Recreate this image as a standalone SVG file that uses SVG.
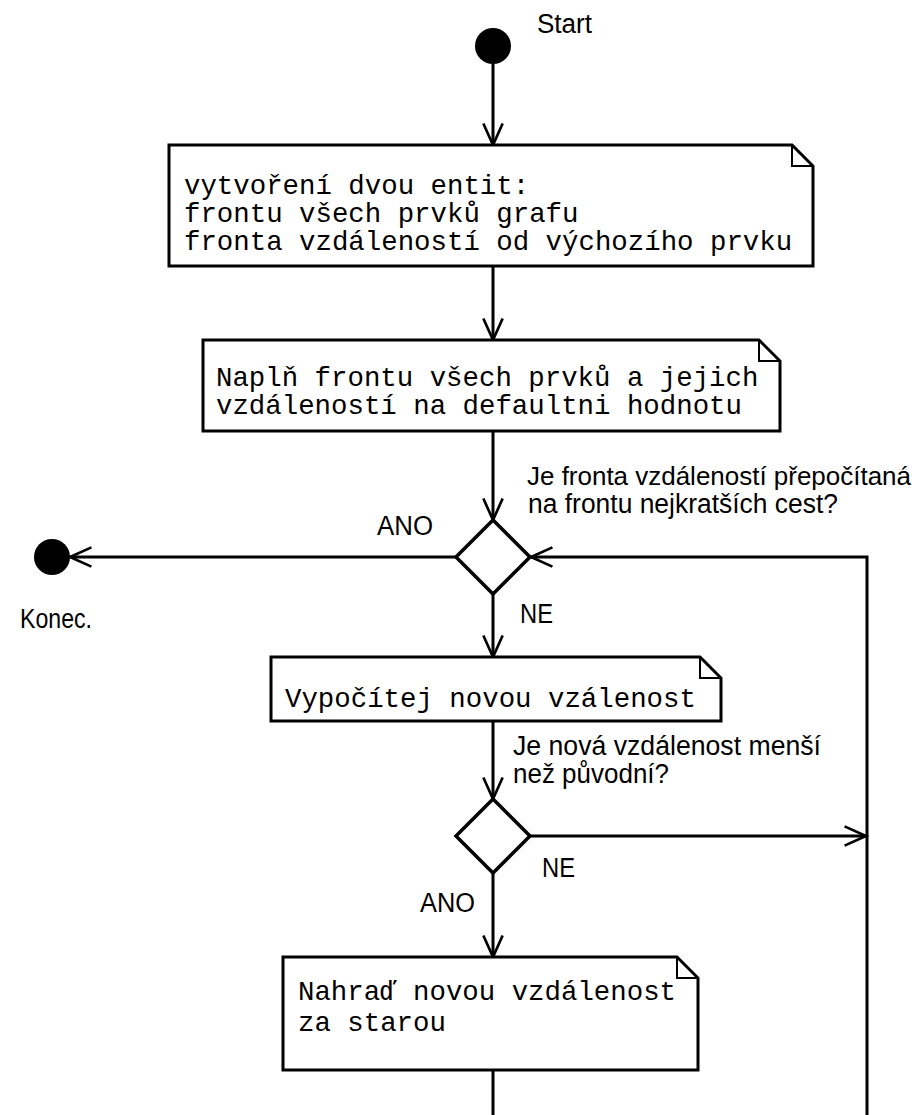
<svg xmlns="http://www.w3.org/2000/svg" width="920" height="1115" viewBox="0 0 920 1115">
  <defs>
    <style>
      .box { fill: #ffffff; stroke: #000; stroke-width: 3; stroke-linejoin: miter; }
      .fold { fill: none; stroke: #000; stroke-width: 2; }
      .mono { font-family: "Liberation Mono", "Courier New", monospace; font-size: 27.4px; fill: #000; }
      .lbl { font-family: "Liberation Sans", Arial, sans-serif; font-size: 27px; fill: #000; }
      .conn { fill: none; stroke: #000; stroke-width: 3; }
      .dia { fill: #ffffff; stroke: #000; stroke-width: 3.5; stroke-linejoin: miter; }
      .dot { fill: #000; }
    </style>
    <marker id="arrow" markerUnits="userSpaceOnUse" markerWidth="30" markerHeight="30" viewBox="-24 -12 28 24" refX="0" refY="0" orient="auto">
      <path d="M -20 -9 L 0 0 L -20 9" fill="none" stroke="#000" stroke-width="2.5"/>
    </marker>
  </defs>
  <rect x="0" y="0" width="920" height="1115" fill="#ffffff"/>

  <g id="connectors">
    <line class="conn" x1="493" y1="64" x2="493" y2="145" marker-end="url(#arrow)"/>
    <line class="conn" x1="493" y1="266" x2="493" y2="340" marker-end="url(#arrow)"/>
    <line class="conn" x1="493" y1="431" x2="493" y2="520" marker-end="url(#arrow)"/>
    <line class="conn" x1="456" y1="557" x2="70" y2="557" marker-end="url(#arrow)"/>
    <line class="conn" x1="493" y1="594" x2="493" y2="657" marker-end="url(#arrow)"/>
    <line class="conn" x1="493" y1="721" x2="493" y2="799" marker-end="url(#arrow)"/>
    <line class="conn" x1="530" y1="836" x2="866" y2="836" marker-end="url(#arrow)"/>
    <line class="conn" x1="493" y1="873" x2="493" y2="957" marker-end="url(#arrow)"/>
    <line class="conn" x1="493" y1="1070" x2="493" y2="1115"/>
    <polyline class="conn" points="867,1115 867,557 531,557" marker-end="url(#arrow)"/>
  </g>

  <g id="start">
    <circle class="dot" cx="493" cy="46" r="18"/>
    <text class="lbl" x="537" y="33" textLength="55" lengthAdjust="spacingAndGlyphs">Start</text>
  </g>

  <g id="box1">
    <path class="box" d="M169 145 H792 L813 166 V266 H169 Z"/>
    <path class="fold" d="M792 145 V166 H813"/>
    <text class="mono" x="184" y="194">vytvoření dvou entit:</text>
    <text class="mono" x="184" y="222">frontu všech prvků grafu</text>
    <text class="mono" x="184" y="250">fronta vzdáleností od výchozího prvku</text>
  </g>

  <g id="box2">
    <path class="box" d="M203 340 H759 L780 361 V431 H203 Z"/>
    <path class="fold" d="M759 340 V361 H780"/>
    <text class="mono" x="216" y="386">Naplň frontu všech prvků a jejich</text>
    <text class="mono" x="216" y="414">vzdáleností na defaultni hodnotu</text>
  </g>

  <g id="decision1">
    <polygon class="dia" points="493,520 530,557 493,594 456,557"/>
    <text class="lbl" x="527" y="485" style="font-size:25.5px" textLength="384" lengthAdjust="spacingAndGlyphs">Je fronta vzdáleností přepočítaná</text>
    <text class="lbl" x="528" y="513" textLength="310" lengthAdjust="spacingAndGlyphs">na frontu nejkratších cest?</text>
    <text class="lbl" x="377" y="535" textLength="56" lengthAdjust="spacingAndGlyphs">ANO</text>
    <text class="lbl" x="520" y="623" textLength="33" lengthAdjust="spacingAndGlyphs">NE</text>
  </g>

  <g id="end">
    <circle class="dot" cx="52" cy="557" r="18"/>
    <text class="lbl" x="20" y="628" textLength="72" lengthAdjust="spacingAndGlyphs">Konec.</text>
  </g>

  <g id="box3">
    <path class="box" d="M271 657 H700 L721 678 V721 H271 Z"/>
    <path class="fold" d="M700 657 V678 H721"/>
    <text class="mono" x="285" y="707">Vypočítej novou vzálenost</text>
  </g>

  <g id="decision2">
    <polygon class="dia" points="493,799 530,836 493,873 456,836"/>
    <text class="lbl" x="513" y="755" textLength="308" lengthAdjust="spacingAndGlyphs">Je nová vzdálenost menší</text>
    <text class="lbl" x="513" y="783" textLength="156" lengthAdjust="spacingAndGlyphs">než původní?</text>
    <text class="lbl" x="542" y="877" textLength="33" lengthAdjust="spacingAndGlyphs">NE</text>
    <text class="lbl" x="420" y="912" textLength="55" lengthAdjust="spacingAndGlyphs">ANO</text>
  </g>

  <g id="box4">
    <path class="box" d="M283 957 H677 L698 978 V1070 H283 Z"/>
    <path class="fold" d="M677 957 V978 H698"/>
    <text class="mono" x="298" y="1000">Nahraď novou vzdálenost</text>
    <text class="mono" x="298" y="1031">za starou</text>
  </g>
</svg>
